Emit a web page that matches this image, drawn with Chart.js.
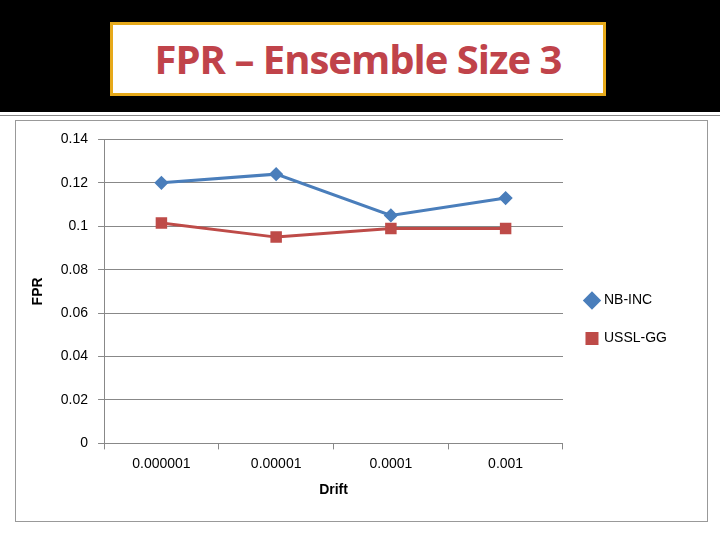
<!DOCTYPE html>
<html>
<head>
<meta charset="utf-8">
<script src="https://cdn.jsdelivr.net/npm/chart.js@4"></script>
<style>
body { margin: 0; width: 720px; height: 540px; background: #fff; position: relative; overflow: hidden; font-family: "Liberation Sans", sans-serif; }
#band { position: absolute; left: 0; top: 0; width: 720px; height: 112px; background: #000; }
#title { position: absolute; left: 110px; top: 22px; width: 490px; height: 68px; background: #fff; border: 3px solid #e6a91a;
  color: #c0434a; font: bold 40px "Open Sans", "DejaVu Sans", sans-serif; text-align: center; line-height: 68px; letter-spacing: -1px; }
#rule { position: absolute; left: 0; top: 115px; width: 720px; height: 1px; background: #888; }
#box { position: absolute; left: 15px; top: 120px; width: 691px; height: 400px; border: 1px solid #999; }
</style>
</head>
<body>
<div id="band"></div>
<div id="title">FPR – Ensemble Size 3</div>
<div id="rule"></div>
<div id="box"><canvas id="chart" width="691" height="400"></canvas></div>
<script>
const categories = ['0.000001', '0.00001', '0.0001', '0.001'];
const nbInc = [0.120, 0.124, 0.105, 0.113];
const usslGg = [0.1015, 0.095, 0.099, 0.099];

new Chart(document.getElementById('chart'), {
    type: 'line',
    data: {
        labels: categories,
        datasets: [{
            label: 'NB-INC',
            data: nbInc,
            borderColor: '#4a7ebb',
            backgroundColor: '#4a7ebb',
            borderWidth: 3,
            pointStyle: 'rectRot',
            pointRadius: 5,
            tension: 0
        }, {
            label: 'USSL-GG',
            data: usslGg,
            borderColor: '#be4b48',
            backgroundColor: '#be4b48',
            borderWidth: 3,
            pointStyle: 'rect',
            pointRadius: 6,
            tension: 0
        }]
    },
    options: {
        responsive: false,
        animation: false,
        layout: { padding: { top: 15, right: 5, bottom: 18, left: 10 } },
        plugins: {
            legend: {
                position: 'right',
                labels: {
                    usePointStyle: true,
                    boxWidth: 10,
                    boxHeight: 10,
                    font: { family: 'Liberation Sans', size: 14 },
                    color: '#000',
                    padding: 24
                }
            },
            tooltip: { enabled: false }
        },
        scales: {
            x: {
                offset: true,
                grid: { display: true, drawOnChartArea: false, offset: true, color: '#888', tickLength: 6 },
                border: { color: '#888' },
                ticks: { color: '#000', font: { family: 'Liberation Sans', size: 14 }, padding: 6 },
                title: { display: true, text: 'Drift', color: '#000', font: { family: 'Liberation Sans', size: 14, weight: 'bold' } }
            },
            y: {
                min: 0, max: 0.14,
                ticks: { stepSize: 0.02, color: '#000', font: { family: 'Liberation Sans', size: 14 }, padding: 10,
                    callback: v => String(Math.round(v * 100) / 100) },
                grid: { color: '#888', tickLength: 6 },
                border: { color: '#888' },
                title: { display: true, text: 'FPR', color: '#000', font: { family: 'Liberation Sans', size: 14, weight: 'bold' } }
            }
        }
    },
    plugins: [{
        id: 'legendGap',
        beforeInit(chart) {
            const fit = chart.legend.fit;
            chart.legend.fit = function () { fit.bind(this)(); this.width += 25; };
        }
    }]
});
</script>
</body>
</html>
